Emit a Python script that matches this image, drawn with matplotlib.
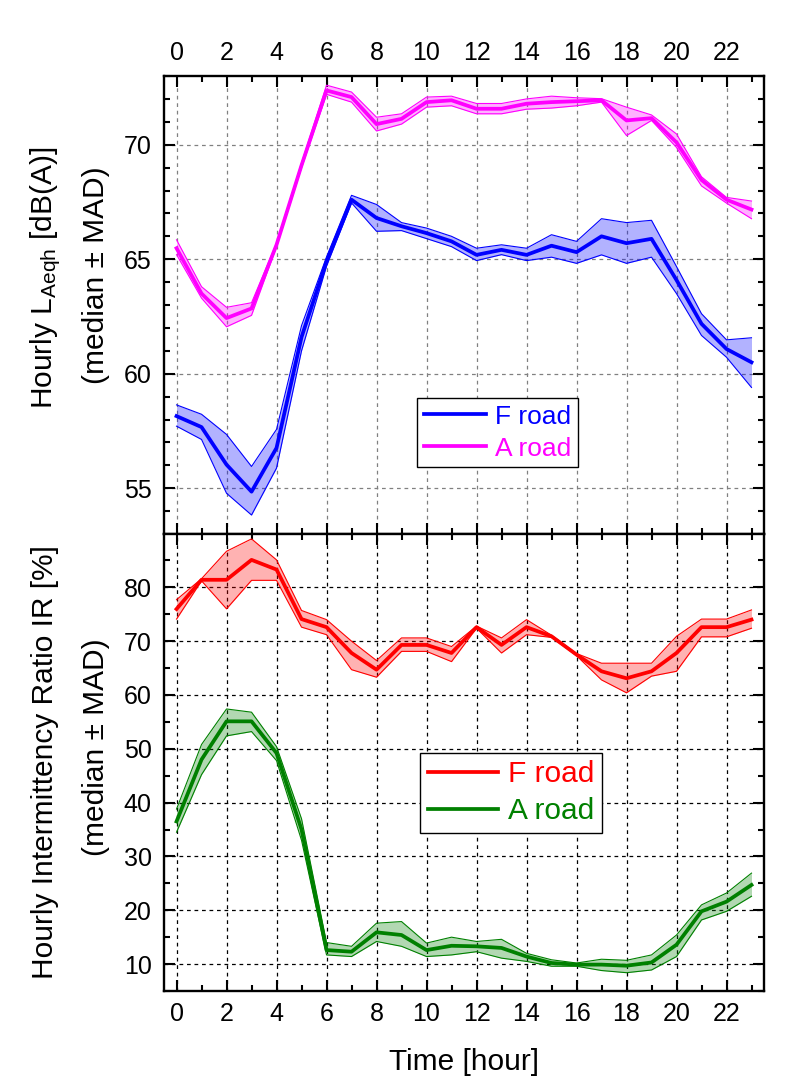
import matplotlib
matplotlib.use('Agg')
import matplotlib.pyplot as plt
from matplotlib.ticker import MultipleLocator

plt.rcParams['font.family'] = ['Liberation Sans', 'DejaVu Sans']
plt.rcParams['mathtext.default'] = 'regular'

hours = list(range(24))

# Hourly LAeqh [dB(A)] -- median, lower, upper (median -/+ MAD)
f_laeq = [58.15, 57.67, 56.03, 54.85, 56.76, 61.6, 64.9, 67.6, 66.8, 66.44, 66.14, 65.78,
          65.19, 65.41, 65.19, 65.59, 65.31, 66.0, 65.7, 65.89, 64.09, 62.18, 61.08, 60.5]
f_laeq_lo = [57.71, 57.13, 54.78, 53.83, 55.88, 61.0, 64.7, 67.46, 66.22, 66.25, 65.9, 65.55,
             64.94, 65.2, 64.94, 65.09, 64.82, 65.19, 64.82, 65.09, 63.5, 61.67, 60.72, 59.4]
f_laeq_hi = [58.64, 58.23, 57.35, 55.95, 57.57, 62.1, 65.1, 67.79, 67.39, 66.6, 66.36, 66.0,
             65.48, 65.63, 65.48, 66.07, 65.78, 66.77, 66.6, 66.7, 64.68, 62.62, 61.48, 61.57]

a_laeq = [65.48, 63.5, 62.43, 62.85, 65.63, 69.1, 72.37, 72.08, 70.9, 71.13, 71.86, 71.94,
          71.57, 71.57, 71.79, 71.86, 71.9, 71.94, 71.06, 71.16, 70.1, 68.46, 67.6, 67.17]
a_laeq_lo = [65.2, 63.3, 62.05, 62.55, 65.55, 69.0, 72.2, 71.86, 70.6, 70.9, 71.64, 71.7,
             71.35, 71.35, 71.55, 71.6, 71.7, 71.86, 70.4, 71.06, 69.88, 68.2, 67.45, 66.77]
a_laeq_hi = [65.85, 63.8, 62.9, 63.1, 65.7, 69.2, 72.6, 72.3, 71.2, 71.35, 72.08, 72.12,
             71.8, 71.8, 72.0, 72.12, 72.05, 72.01, 71.64, 71.3, 70.47, 68.6, 67.7, 67.54]

# Hourly intermittency ratio IR [%]
f_ir = [75.97, 81.4, 81.4, 85.1, 83.3, 74.1, 72.6, 67.8, 64.7, 69.3, 69.3, 67.8,
        72.6, 69.3, 72.6, 70.9, 67.5, 64.4, 63.1, 64.4, 67.8, 72.6, 72.6, 74.0]
f_ir_lo = [74.1, 81.2, 76.0, 81.3, 81.3, 72.6, 71.2, 64.7, 63.3, 68.1, 68.1, 66.2,
           72.4, 67.8, 71.2, 70.7, 67.3, 62.8, 60.4, 63.5, 64.4, 70.8, 70.8, 72.4]
f_ir_hi = [77.7, 81.6, 86.7, 89.0, 85.1, 75.7, 74.0, 70.0, 66.4, 70.6, 70.6, 69.0,
           72.8, 70.6, 74.0, 71.1, 67.7, 65.9, 65.9, 65.9, 70.9, 74.1, 74.1, 75.8]

a_ir = [36.5, 48.0, 55.1, 55.1, 49.2, 35.0, 12.6, 12.3, 15.9, 15.4, 12.6, 13.4,
        13.3, 13.0, 11.4, 10.2, 9.9, 9.9, 9.7, 10.3, 13.6, 19.8, 21.6, 24.7]
a_ir_lo = [34.5, 45.2, 52.4, 53.2, 47.8, 33.0, 11.7, 11.4, 14.2, 13.3, 11.4, 11.7,
           12.3, 11.1, 10.5, 9.6, 9.6, 8.8, 8.4, 8.9, 11.4, 18.2, 19.8, 22.6]
a_ir_hi = [38.8, 50.8, 57.4, 56.8, 50.4, 37.0, 14.0, 13.3, 17.6, 17.9, 13.9, 15.0,
           14.2, 14.6, 12.0, 10.8, 10.2, 10.9, 10.7, 11.7, 15.4, 21.0, 23.2, 26.9]

BLUE, MAGENTA, RED, GREEN = '#0000ff', '#ff00ff', '#ff0000', '#008000'
TICK_FS = 18
LABEL_FS = 21.5

fig = plt.figure(figsize=(7.99, 10.89), dpi=100)
ax1 = fig.add_axes([0.2053, 0.5096, 0.7509, 0.4206])
ax2 = fig.add_axes([0.2053, 0.0900, 0.7509, 0.4196])


def band(ax, y, lo, hi, color, label):
    ax.fill_between(hours, lo, hi, color=color, alpha=0.3, linewidth=0, zorder=2)
    ax.plot(hours, lo, color=color, lw=0.8, zorder=3)
    ax.plot(hours, hi, color=color, lw=0.8, zorder=3)
    line, = ax.plot(hours, y, color=color, lw=2.7, label=label, zorder=4)
    return line


def style(ax, grid_color):
    ax.set_xlim(-0.5, 23.5)
    ax.xaxis.set_major_locator(MultipleLocator(2))
    ax.xaxis.set_minor_locator(MultipleLocator(1))
    ax.tick_params(which='both', direction='in', top=True, right=True, width=1.5,
                   labelsize=TICK_FS)
    ax.tick_params(which='major', length=8)
    ax.tick_params(which='minor', length=4.5)
    ax.tick_params(axis='y', pad=9)
    ax.grid(True, which='major', color=grid_color, linestyle=(0, (3, 3)), lw=0.9)
    for s in ax.spines.values():
        s.set_linewidth(1.7)


def legend(ax, handles, colors, anchor, fs):
    leg = ax.legend(handles=handles, loc='upper left', bbox_to_anchor=anchor,
                    fontsize=fs, frameon=True, fancybox=False, edgecolor='black',
                    framealpha=1, borderpad=0.25, handlelength=2.35, handletextpad=0.35,
                    labelspacing=0.3, borderaxespad=0)
    leg.get_frame().set_linewidth(1.0)
    for t, c in zip(leg.get_texts(), colors):
        t.set_color(c)
    return leg


# ── Top panel: LAeqh ─────────────────────────────────────────
l1 = band(ax1, f_laeq, f_laeq_lo, f_laeq_hi, BLUE, 'F road')
l2 = band(ax1, a_laeq, a_laeq_lo, a_laeq_hi, MAGENTA, 'A road')
style(ax1, '#808080')
ax1.set_ylim(53, 73)
ax1.yaxis.set_major_locator(MultipleLocator(5))
ax1.yaxis.set_minor_locator(MultipleLocator(1))
ax1.tick_params(axis='x', labeltop=True, labelbottom=False, pad=8)
legend(ax1, [l1, l2], [BLUE, MAGENTA], (0.422, 0.297), 19)

# ── Bottom panel: intermittency ratio ────────────────────────
l3 = band(ax2, f_ir, f_ir_lo, f_ir_hi, RED, 'F road')
l4 = band(ax2, a_ir, a_ir_lo, a_ir_hi, GREEN, 'A road')
style(ax2, 'black')
ax2.set_ylim(5, 89.9)
ax2.yaxis.set_major_locator(MultipleLocator(10))
ax2.yaxis.set_minor_locator(MultipleLocator(5))
ax2.tick_params(axis='x', pad=8)
legend(ax2, [l3, l4], [RED, GREEN], (0.427, 0.521), 21.5)

# ── Labels ───────────────────────────────────────────────────
W, H = 799, 1089
fig.text(45.5 / W, 1 - 278 / H, 'Hourly L$_{Aeqh}$ [dB(A)]', rotation=90,
         ha='center', va='center', fontsize=LABEL_FS)
fig.text(96.5 / W, 1 - 275 / H, '(median \u00b1 MAD)', rotation=90,
         ha='center', va='center', fontsize=LABEL_FS)
fig.text(45.5 / W, 1 - 762 / H, 'Hourly Intermittency Ratio IR [%]', rotation=90,
         ha='center', va='center', fontsize=LABEL_FS)
fig.text(96.5 / W, 1 - 747 / H, '(median \u00b1 MAD)', rotation=90,
         ha='center', va='center', fontsize=LABEL_FS)
fig.text(464 / W, 1 - 1062 / H, 'Time [hour]', ha='center', va='center',
         fontsize=LABEL_FS)

fig.savefig('out.png', dpi=100)
